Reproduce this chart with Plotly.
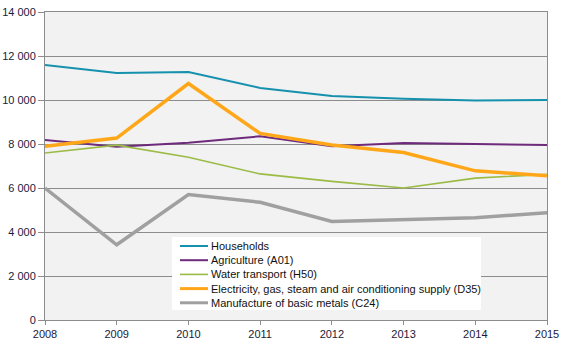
import plotly.graph_objects as go

years = [2008, 2009, 2010, 2011, 2012, 2013, 2014, 2015]

households = [11590, 11230, 11270, 10550, 10180, 10060, 9980, 10000]
agriculture = [8180, 7870, 8060, 8350, 7900, 8050, 8000, 7950]
water_transport = [7590, 7950, 7400, 6640, 6300, 6000, 6450, 6620]
electricity = [7900, 8270, 10750, 8480, 7950, 7610, 6780, 6560]
basic_metals = [6000, 3420, 5700, 5350, 4480, 4570, 4650, 4880]

series = [
    ("Households", households, "#1591ae", 2),
    ("Agriculture (A01)", agriculture, "#6e2b7c", 2),
    ("Water transport (H50)", water_transport, "#9bbb45", 1.6),
    ("Electricity, gas, steam and air conditioning supply (D35)", electricity, "#ffa719", 3.5),
    ("Manufacture of basic metals (C24)", basic_metals, "#a0a0a0", 3.5),
]

W, H = 567, 340
ML, MR, MT, MB = 45, 20, 12, 20
PW, PH = W - ML - MR, H - MT - MB
TICK_COLOR = "#1a1a3a"


def px(xp):
    return (xp - ML) / PW


def py(yp):
    return (H - MB - yp) / PH


fig = go.Figure()
for name, vals, color, width in series:
    fig.add_trace(go.Scatter(
        x=years, y=vals, name=name, mode="lines",
        line=dict(color=color, width=width),
    ))

# Compact legend box drawn inside the plot area
shapes = [dict(type="rect", xref="paper", yref="paper",
               x0=px(172), x1=px(481), y0=py(310), y1=py(237),
               fillcolor="white", line=dict(width=0), layer="above")]
annotations = []
row0, step = 246, 14.2
for i, (name, vals, color, width) in enumerate(series):
    yc = row0 + i * step
    shapes.append(dict(type="line", xref="paper", yref="paper",
                       x0=px(180), x1=px(208), y0=py(yc), y1=py(yc),
                       line=dict(color=color, width=min(width, 3)), layer="above"))
    annotations.append(dict(xref="paper", yref="paper", x=px(209), y=py(yc),
                            text=name, showarrow=False, xanchor="left",
                            yanchor="middle", font=dict(size=11, color="#111111")))

fig.update_layout(
    width=W, height=H,
    margin=dict(l=ML, r=MR, t=MT, b=MB),
    paper_bgcolor="white",
    plot_bgcolor="#f2f2f2",
    separators=". ",
    font=dict(family="Arial, Liberation Sans, sans-serif", size=11, color="#111111"),
    showlegend=False,
    shapes=shapes,
    annotations=annotations,
    xaxis=dict(
        range=[2008, 2015], tickmode="array", tickvals=years,
        showgrid=False, showline=True, linecolor="#8c8c8c", linewidth=1,
        mirror=True, ticks="outside", ticklen=4, tickcolor="#8c8c8c",
        zeroline=False, tickfont=dict(size=11, color=TICK_COLOR), automargin=False,
    ),
    yaxis=dict(
        range=[0, 14000], tickvals=list(range(0, 14001, 2000)),
        tickformat=",d", showgrid=True, gridcolor="#8c8c8c", gridwidth=1,
        showline=True, linecolor="#8c8c8c", linewidth=1, mirror=True,
        ticks="outside", ticklen=6, tickcolor="#8c8c8c",
        zeroline=False, tickfont=dict(size=11, color=TICK_COLOR), automargin=False,
    ),
)

fig.write_html("out.html")
